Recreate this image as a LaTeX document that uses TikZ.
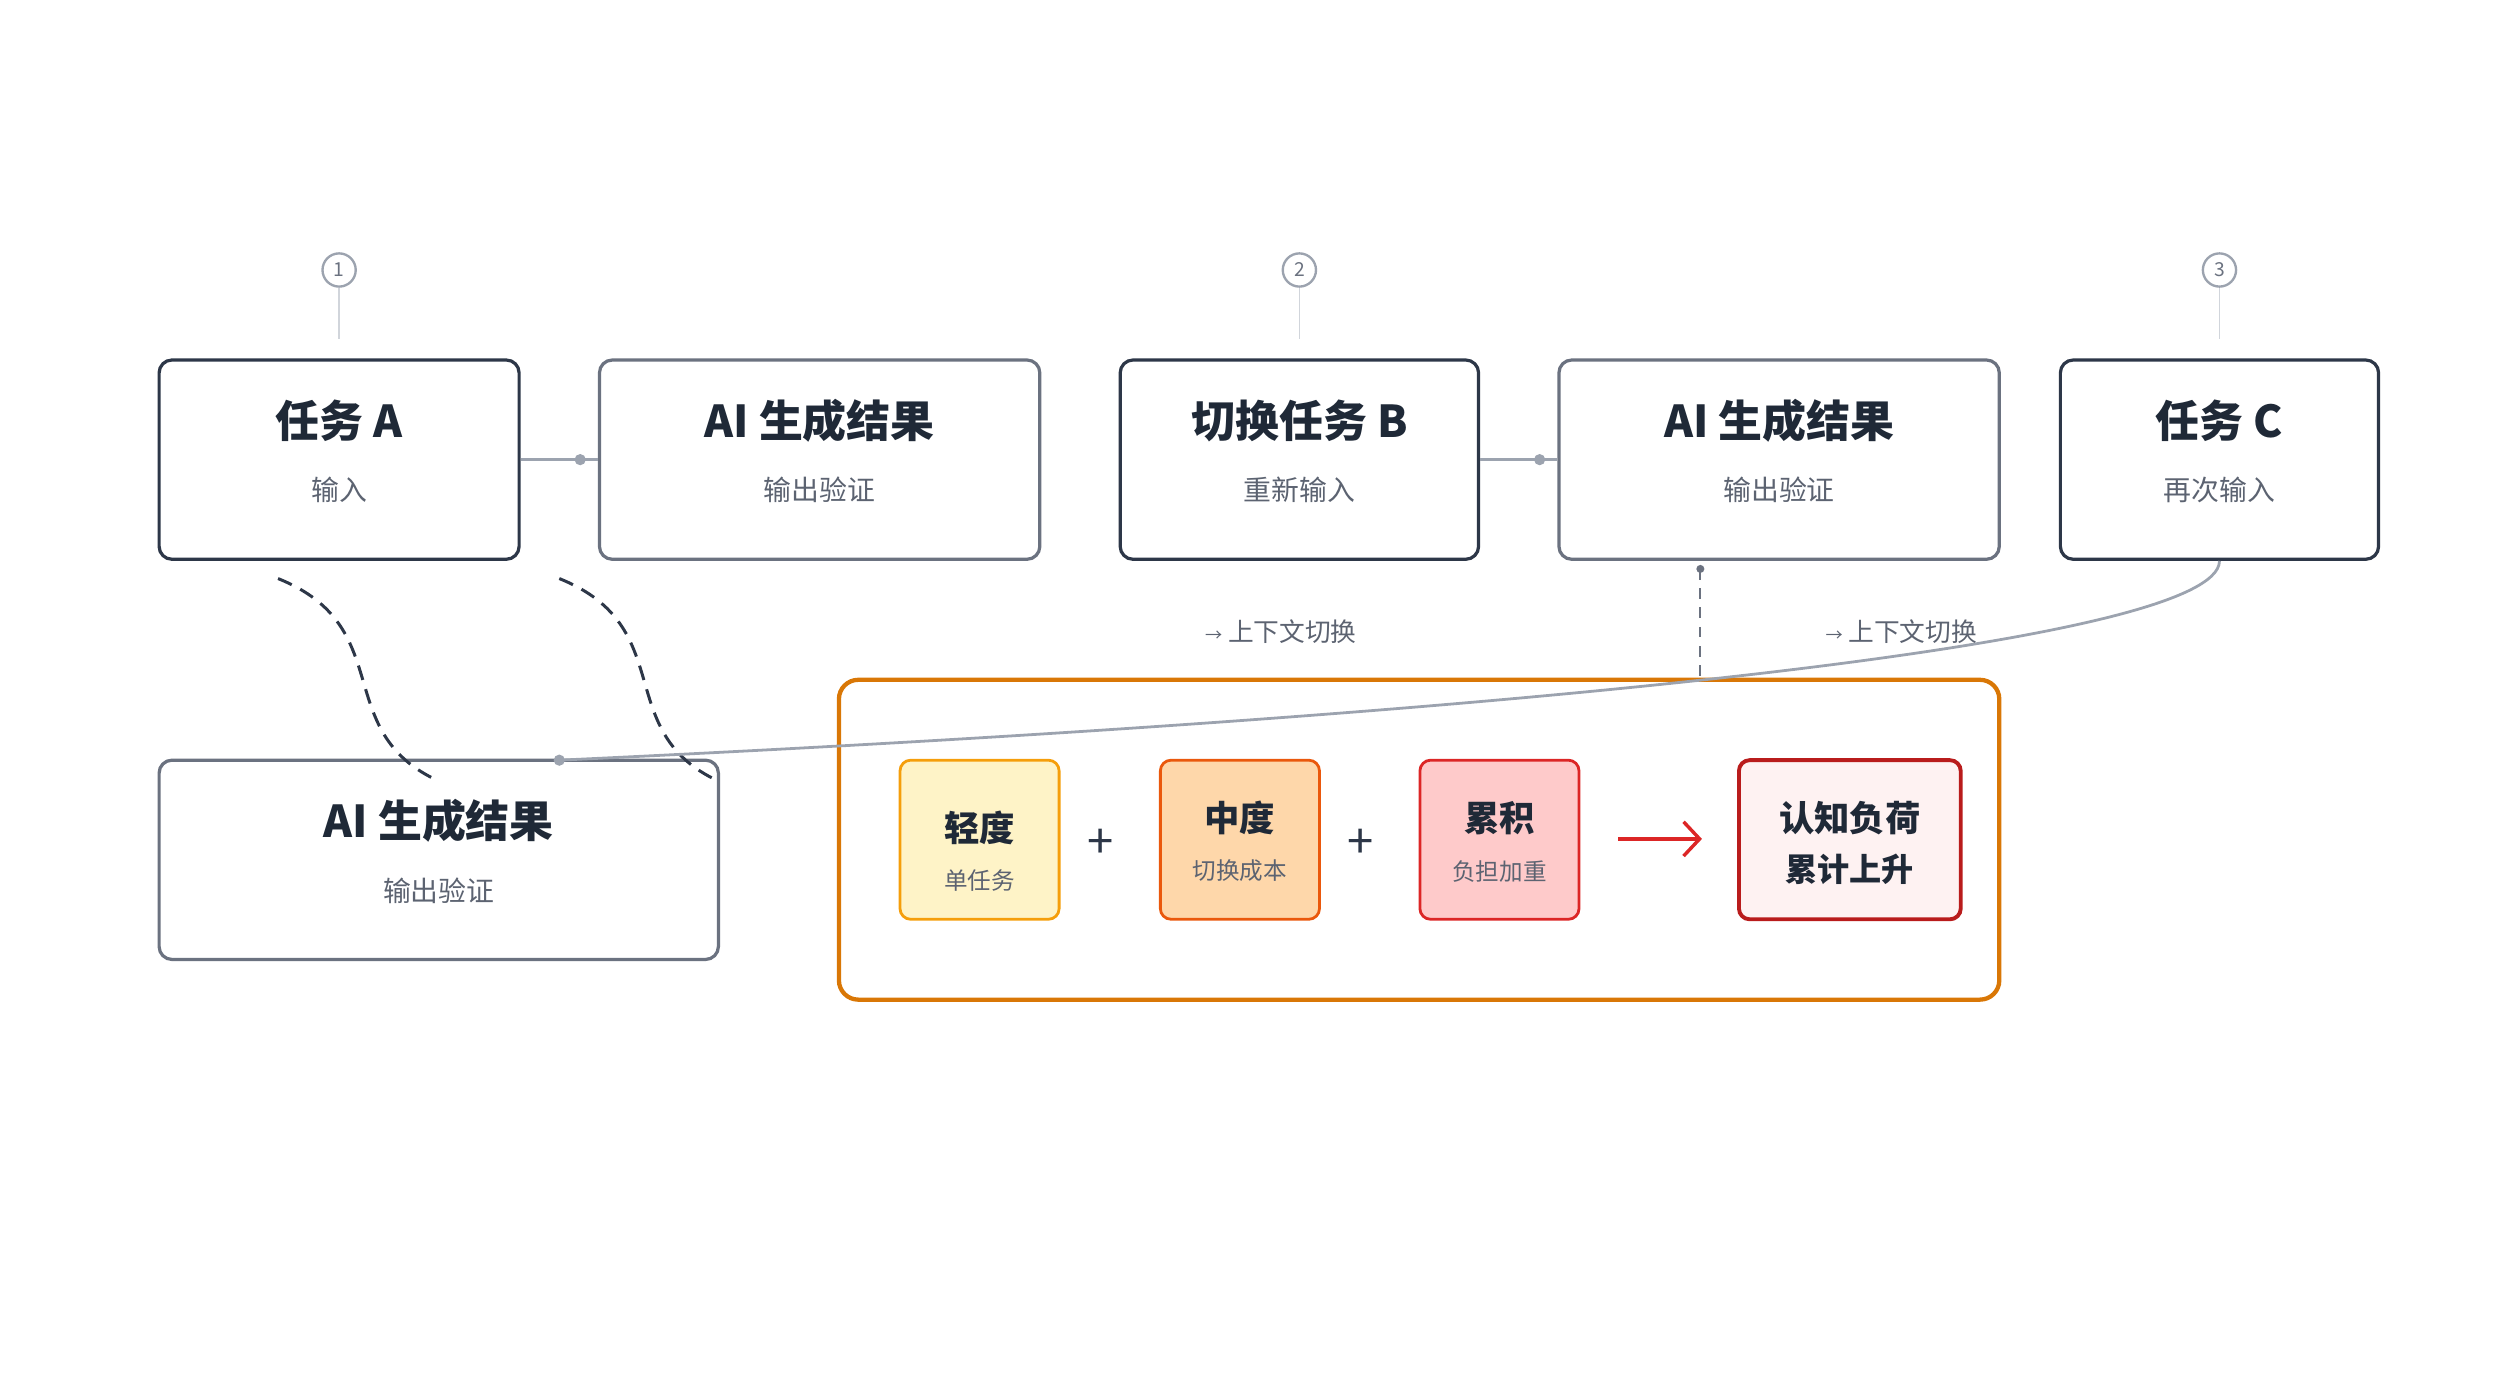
\documentclass[tikz,border=0pt]{standalone}
\usepackage{fontspec}
\setmainfont{Noto Sans CJK SC}
\usepackage{tikz}
\usetikzlibrary{arrows.meta}
\definecolor{ink}{RGB}{31, 41, 55}
\definecolor{slate}{RGB}{45, 55, 72}
\definecolor{steel}{RGB}{107, 114, 128}
\definecolor{mist}{RGB}{156, 163, 175}
\definecolor{haze}{RGB}{209, 213, 219}
\definecolor{amber}{RGB}{217, 119, 6}
\definecolor{lightfill}{RGB}{254, 243, 199}
\definecolor{lightline}{RGB}{245, 158, 11}
\definecolor{midfill}{RGB}{254, 215, 170}
\definecolor{midline}{RGB}{234, 88, 12}
\definecolor{sumfill}{RGB}{254, 202, 202}
\definecolor{sumline}{RGB}{220, 38, 38}
\definecolor{loadfill}{RGB}{254, 242, 242}
\definecolor{loadline}{RGB}{185, 28, 28}

\tikzset{
  taskbox/.style={draw=slate, line width=1.5pt, rounded corners=6pt, minimum height=93pt},
  resultbox/.style={draw=steel, line width=1.5pt, rounded corners=6pt, minimum height=93pt},
  levelbox/.style={line width=1.3pt, rounded corners=5pt, minimum width=74.25pt, minimum height=74.25pt},
  title/.style={text=ink, font=\fontsize{20.5}{24}\selectfont\bfseries, inner sep=0pt},
  sub/.style={text=steel!80!ink, font=\fontsize{13}{16}\selectfont, inner sep=0pt},
  lvltitle/.style={text=ink, font=\fontsize{16.5}{20}\selectfont\bfseries, inner sep=0pt},
  lvlsub/.style={text=steel!80!ink, font=\fontsize{11}{13}\selectfont, inner sep=0pt},
  stepmark/.style={circle, draw=mist, line width=1.1pt, minimum size=15.5pt, inner sep=0pt, text=steel, font=\fontsize{9}{10}\selectfont},
  joint/.style={draw=mist, line width=1.3pt},
  wave/.style={draw=slate, line width=1.4pt, dash pattern={on 7pt off 4.5pt}},
  plussign/.style={text=slate, font=\fontsize{22}{24}\selectfont, inner sep=0pt},
}

\begin{document}
\begin{tikzpicture}[x=0.75pt,y=0.75pt,yscale=-1,xscale=1]
\useasboundingbox (0,0) rectangle (1568,871.1);

% top row
\node[taskbox, minimum width=168pt] (taskA) at (211,286) {};
\node[resultbox, minimum width=205.5pt] (aiA) at (510,286) {};
\node[taskbox, minimum width=167.25pt] (taskB) at (808.5,286) {};
\node[resultbox, minimum width=205.5pt] (aiB) at (1107,286) {};
\node[taskbox, minimum width=148.5pt] (taskC) at (1381,286) {};

\node[title] (tA) at (211,262) {任务 A};
\node[sub] (sA) at (211,305) {输入};
\node[title] (tAiA) at (510,262) {AI 生成结果};
\node[sub] (sAiA) at (510,305) {输出验证};
\node[title] (tB) at (808.5,262) {切换任务 B};
\node[sub] (sB) at (808.5,305) {重新输入};
\node[title] (tAiB) at (1107,262) {AI 生成结果};
\node[sub] (sAiB) at (1107,305) {输出验证};
\node[title] (tC) at (1381,262) {任务 C};
\node[sub] (sC) at (1381,305) {再次输入};

% step numbers
\node[stepmark] (n1) at (211,168) {1};
\node[stepmark] (n2) at (808.5,168) {2};
\node[stepmark] (n3) at (1381,168) {3};
\coordinate (n1end) at (211,211);
\coordinate (n2end) at (808.5,211);
\coordinate (n3end) at (1381,211);
\draw[haze, line width=0.8pt] (n1) -- (n1end);
\draw[haze, line width=0.8pt] (n2) -- (n2end);
\draw[haze, line width=0.8pt] (n3) -- (n3end);

% links in the row
\draw[joint] (taskA.east) -- (aiA.west);
\fill[mist] (361,286) circle (3.5);
\draw[joint] (taskB.east) -- (aiB.west);
\fill[mist] (958,286) circle (3.5);

% lower result box
\node[resultbox, minimum width=261pt] (aiC) at (273,535) {};
\node[title] (tAiC) at (273,511) {AI 生成结果};
\node[sub] (sAiC) at (273,554) {输出验证};

% dashed waves
\coordinate (w1s) at (173,360);
\coordinate (w1e) at (273,486);
\coordinate (w2s) at (348,360);
\coordinate (w2e) at (447,486);
\draw[wave] (w1s) .. controls (248,390) and (205,455) .. (w1e);
\draw[wave] (w2s) .. controls (423,390) and (380,455) .. (w2e);

% load panel
\node[draw=amber, line width=2pt, rounded corners=9pt, minimum width=541.5pt, minimum height=149.25pt] (panel) at (883,522.5) {};

% return curve from task C
\coordinate (back) at (348,473);
\draw[mist, line width=1.3pt] (taskC.south) .. controls (1381,400) and (950,445) .. (back);
\fill[mist] (back) circle (3.5);

% dashed drop from second result
\coordinate (drop) at (1058,354);
\coordinate (dropend) at (1058,423);
\fill[steel] (drop) circle (2.5);
\draw[steel, line width=0.9pt, dash pattern={on 5pt off 4pt}] (drop) -- (dropend);

% switch labels
\node[text=steel!80!ink, font=\fontsize{12}{14}\selectfont, inner sep=0pt] (sw1) at (797,393) {{\fontsize{8}{8}\selectfont →} 上下文切换};
\node[text=steel!80!ink, font=\fontsize{12}{14}\selectfont, inner sep=0pt] (sw2) at (1183,393) {{\fontsize{8}{8}\selectfont →} 上下文切换};

% levels
\node[levelbox, draw=lightline, fill=lightfill] (light) at (609.5,522.5) {};
\node[lvltitle] (lightT) at (609.5,515) {轻度};
\node[lvlsub] (lightS) at (609.5,548) {单任务};
\node[levelbox, draw=midline, fill=midfill] (mid) at (771.5,522.5) {};
\node[lvltitle] (midT) at (771.5,509) {中度};
\node[lvlsub] (midS) at (771.5,542) {切换成本};
\node[levelbox, draw=sumline, fill=sumfill] (sum) at (933,522.5) {};
\node[lvltitle] (sumT) at (933,509) {累积};
\node[lvlsub] (sumS) at (933,542) {负担加重};
\node[plussign] (plus1) at (684.5,525) {+};
\node[plussign] (plus2) at (846.5,525) {+};

\node[levelbox, draw=loadline, fill=loadfill, line width=1.8pt, minimum width=103.5pt] (load) at (1151,522.5) {};
\node[lvltitle] (loadT) at (1151,509) {认知负荷};
\node[lvltitle, font=\fontsize{15}{18}\selectfont\bfseries] (loadS) at (1151,541) {累计上升};

\coordinate (arrowS) at (1007,522);
\coordinate (arrowE) at (1059,522);
\draw[sumline, line width=1.6pt, -{Straight Barb[length=7.5pt,width=16pt]}] (arrowS) -- (arrowE);

\end{tikzpicture}
\end{document}
